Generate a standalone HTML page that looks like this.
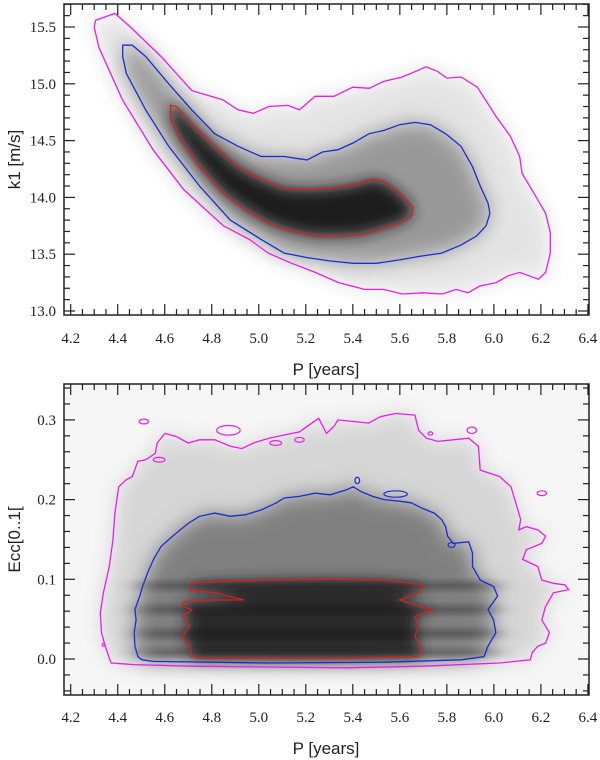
<!DOCTYPE html>
<html><head><meta charset="utf-8">
<style>
html,body{margin:0;padding:0;background:#fff;}
svg{display:block;}
.tick{font-family:"Liberation Serif",serif;font-size:15px;fill:#222;}
.title{font-family:"Liberation Sans",sans-serif;font-size:17px;fill:#222;}
</style></head>
<body>
<svg id="chart" width="600" height="760" viewBox="0 0 600 760" xmlns="http://www.w3.org/2000/svg">
<defs>
<filter id="b1" x="-20%" y="-20%" width="140%" height="140%"><feGaussianBlur stdDeviation="10"/></filter>
<filter id="b2" x="-20%" y="-20%" width="140%" height="140%"><feGaussianBlur stdDeviation="7"/></filter>
<filter id="b3" x="-20%" y="-50%" width="140%" height="200%"><feGaussianBlur stdDeviation="14 3"/></filter>
<clipPath id="c1"><rect x="64" y="4" width="525" height="311"/></clipPath>
<clipPath id="c2"><rect x="64" y="384" width="525" height="311"/></clipPath>
</defs>
<g id="top"></g>
<g id="bot"></g>
</svg>
<script>
// x axis (both panels)
const xTicks=[4.2,4.4,4.6,4.8,5.0,5.2,5.4,5.6,5.8,6.0,6.2,6.4];
const xTickLabels=["4.2","4.4","4.6","4.8","5.0","5.2","5.4","5.6","5.8","6.0","6.2","6.4"];
// top panel
const topYTicks=[13.0,13.5,14.0,14.5,15.0,15.5];
const topYTickLabels=["13.0","13.5","14.0","14.5","15.0","15.5"];
const topMagenta=[[4.306,15.56],[4.388,15.62],[4.454,15.50],[4.584,15.24],[4.715,14.94],[4.781,14.90],[4.846,14.86],[4.912,14.77],[4.977,14.74],[5.042,14.80],[5.124,14.81],[5.173,14.77],[5.239,14.89],[5.32,14.89],[5.40,14.97],[5.47,14.96],[5.53,15.02],[5.61,15.06],[5.68,15.12],[5.71,15.15],[5.76,15.11],[5.80,15.05],[5.86,15.06],[5.93,14.97],[6.01,14.71],[6.07,14.54],[6.11,14.36],[6.12,14.21],[6.17,14.04],[6.22,13.86],[6.24,13.69],[6.24,13.51],[6.22,13.34],[6.19,13.28],[6.15,13.31],[6.11,13.34],[6.06,13.31],[6.01,13.25],[5.94,13.22],[5.89,13.16],[5.84,13.19],[5.78,13.15],[5.70,13.16],[5.61,13.15],[5.53,13.19],[5.45,13.19],[5.34,13.25],[5.24,13.34],[5.14,13.42],[5.04,13.51],[4.96,13.63],[4.85,13.75],[4.68,14.07],[4.55,14.42],[4.42,14.86],[4.32,15.32],[4.30,15.50]];
const topBlue=[[4.421,15.34],[4.462,15.34],[4.519,15.24],[4.617,15.00],[4.715,14.77],[4.813,14.56],[4.912,14.45],[5.01,14.36],[5.108,14.36],[5.173,14.34],[5.206,14.33],[5.271,14.40],[5.337,14.42],[5.402,14.48],[5.468,14.56],[5.533,14.59],[5.599,14.64],[5.664,14.66],[5.73,14.64],[5.795,14.56],[5.86,14.45],[5.909,14.27],[5.942,14.10],[5.975,13.95],[5.983,13.86],[5.967,13.75],[5.926,13.66],[5.86,13.58],[5.778,13.51],[5.68,13.48],[5.599,13.45],[5.50,13.42],[5.402,13.42],[5.304,13.44],[5.206,13.47],[5.108,13.51],[5.01,13.63],[4.879,13.80],[4.748,14.10],[4.617,14.45],[4.519,14.77],[4.437,15.09],[4.421,15.24]];
const topRed=[[4.625,14.81],[4.649,14.80],[4.715,14.65],[4.813,14.45],[4.912,14.27],[5.01,14.16],[5.108,14.08],[5.206,14.07],[5.304,14.08],[5.402,14.11],[5.484,14.16],[5.533,14.14],[5.599,14.04],[5.656,13.91],[5.648,13.83],[5.599,13.77],[5.517,13.72],[5.435,13.67],[5.337,13.66],[5.239,13.66],[5.14,13.70],[5.042,13.77],[4.944,13.89],[4.846,14.04],[4.748,14.27],[4.666,14.51],[4.625,14.69]];
// bottom panel
const botYTicks=[0.0,0.1,0.2,0.3];
const botYTickLabels=["0.0","0.1","0.2","0.3"];
const botMagenta=[[4.364,0.001],[4.347,0.016],[4.331,0.033],[4.326,0.058],[4.339,0.083],[4.364,0.116],[4.38,0.150],[4.388,0.183],[4.404,0.216],[4.437,0.225],[4.462,0.229],[4.486,0.248],[4.519,0.250],[4.56,0.258],[4.568,0.271],[4.601,0.283],[4.65,0.279],[4.699,0.271],[4.748,0.275],[4.813,0.275],[4.879,0.267],[4.928,0.264],[4.977,0.271],[5.042,0.277],[5.108,0.281],[5.173,0.285],[5.206,0.292],[5.255,0.302],[5.288,0.283],[5.32,0.292],[5.337,0.300],[5.402,0.298],[5.468,0.296],[5.517,0.304],[5.582,0.308],[5.664,0.306],[5.68,0.287],[5.713,0.277],[5.762,0.273],[5.828,0.275],[5.893,0.277],[5.934,0.267],[5.942,0.237],[6.024,0.229],[6.073,0.216],[6.089,0.200],[6.114,0.175],[6.106,0.162],[6.138,0.166],[6.187,0.162],[6.22,0.154],[6.204,0.145],[6.138,0.137],[6.122,0.125],[6.187,0.116],[6.204,0.099],[6.253,0.095],[6.302,0.093],[6.318,0.087],[6.253,0.083],[6.22,0.066],[6.204,0.049],[6.236,0.033],[6.22,0.020],[6.187,0.016],[6.163,0.008],[6.155,-0.001],[6.024,-0.005],[5.697,-0.009],[5.37,-0.011],[5.042,-0.010],[4.715,-0.009],[4.47,-0.007],[4.372,-0.005]];
const botMagentaIslands=[[4.511,0.298,0.02,0.003],[4.576,0.250,0.025,0.003],[5.072,0.271,0.025,0.003],[5.173,0.275,0.02,0.003],[5.906,0.287,0.02,0.004],[6.204,0.208,0.02,0.003],[4.871,0.287,0.05,0.006],[5.73,0.283,0.01,0.002],[4.34,0.018,0.006,0.002]];
const botBlueIslands=[[5.582,0.207,0.05,0.004],[5.419,0.224,0.01,0.004],[5.82,0.143,0.015,0.003]];
const botBlue=[[4.486,0.003],[4.473,0.016],[4.47,0.033],[4.478,0.049],[4.473,0.062],[4.494,0.079],[4.506,0.091],[4.527,0.108],[4.552,0.125],[4.584,0.141],[4.633,0.154],[4.666,0.162],[4.699,0.170],[4.748,0.179],[4.813,0.183],[4.879,0.179],[4.944,0.181],[5.01,0.187],[5.075,0.196],[5.108,0.202],[5.173,0.204],[5.239,0.208],[5.304,0.206],[5.37,0.212],[5.402,0.216],[5.435,0.210],[5.484,0.204],[5.533,0.200],[5.599,0.198],[5.648,0.196],[5.697,0.189],[5.746,0.183],[5.778,0.175],[5.795,0.166],[5.803,0.154],[5.828,0.145],[5.893,0.147],[5.909,0.133],[5.909,0.116],[5.942,0.099],[5.999,0.091],[6.016,0.079],[5.975,0.062],[5.999,0.049],[6.008,0.033],[5.975,0.016],[5.958,0.003],[5.86,-0.001],[5.533,-0.004],[5.042,-0.005],[4.552,-0.003],[4.503,-0.001]];
const botRed=[[4.715,0.003],[4.707,0.016],[4.674,0.028],[4.707,0.041],[4.679,0.053],[4.715,0.062],[4.674,0.066],[4.683,0.072],[4.813,0.074],[4.936,0.074],[4.813,0.083],[4.707,0.087],[4.715,0.095],[4.813,0.097],[5.042,0.099],[5.288,0.100],[5.533,0.099],[5.697,0.093],[5.68,0.083],[5.599,0.074],[5.68,0.066],[5.738,0.062],[5.664,0.053],[5.68,0.041],[5.664,0.028],[5.689,0.016],[5.68,0.003],[5.37,0.001],[5.042,0.001],[4.748,0.001]];
const botBands=[0.092,0.062,0.032,0.008];

const NS="http://www.w3.org/2000/svg";
const X0=64,X1=589;
function xs(v){return 70.7+(v-4.2)*235.1;}
function ysTop(v){return 311-(v-13.0)*113.6;}
function ysBot(v){return 659-v*797;}
function mk(tag,attrs,parent){const e=document.createElementNS(NS,tag);for(const k in attrs)e.setAttribute(k,attrs[k]);parent.appendChild(e);return e;}
function pathOf(pts,ys){return pts.map((p,i)=>(i?'L':'M')+xs(p[0]).toFixed(1)+','+ys(p[1]).toFixed(1)).join(' ')+'Z';}

function panel(g,ys,Y0,Y1,clip,yTicks,yLabels,yMinor,yTitle,titleY,labY,layers,contours,islands){
  const dens=mk('g',{'clip-path':'url(#'+clip+')'},g);
  
  
  layers(dens);
  const cg=mk('g',{'clip-path':'url(#'+clip+')'},g);
  contours.forEach(c=>{
    const p=mk('path',{d:pathOf(c.pts,ys),fill:'none',stroke:c.color,'stroke-width':1.3},cg);
    
    
  });
  islands.forEach(is=>{
    is.list.forEach(d=>{
      const e=mk('ellipse',{cx:xs(d[0]),cy:ys(d[1]),rx:Math.abs(xs(d[0]+d[2])-xs(d[0])),ry:Math.abs(ys(d[1]+d[3])-ys(d[1])),fill:'none',stroke:is.color,'stroke-width':1.2},cg);
      
      
    });
  });
  const fr=mk('rect',{x:X0,y:Y0,width:X1-X0,height:Y1-Y0,fill:'none',stroke:'#222','stroke-width':1.5},g);
  
  
  const tg=mk('g',{stroke:'#222','stroke-width':1.2},g);
  for(let v=4.2;v<=6.401;v+=0.05){
    const major=Math.abs(v*5-Math.round(v*5))<1e-6;const L=major?11:6;const x=xs(v);
    if(x<X0||x>X1)continue;
    mk('line',{x1:x,x2:x,y1:Y1,y2:Y1-L},tg);mk('line',{x1:x,x2:x,y1:Y0,y2:Y0+L},tg);
  }
  yMinor.forEach(m=>{const y=ys(m.v);if(y<Y0||y>Y1)return;const L=m.major?11:6;
    mk('line',{x1:X0,x2:X0+L,y1:y,y2:y},tg);mk('line',{x1:X1,x2:X1-L,y1:y,y2:y},tg);});
  xTicks.forEach((v,i)=>{const t=mk('text',{x:xs(v),y:labY,'text-anchor':'middle',class:'tick'},g);t.textContent=xTickLabels[i];
    
    });
  yTicks.forEach((v,i)=>{const t=mk('text',{x:56,y:ys(v)+5,'text-anchor':'end',class:'tick'},g);t.textContent=yLabels[i];
    
    });
  const xt=mk('text',{x:326,y:titleY,'text-anchor':'middle',class:'title'},g);xt.textContent='P [years]';
  
  
  const yc=(Y0+Y1)/2;
  const yt=mk('text',{x:20,y:yc,'text-anchor':'middle',class:'title',transform:'rotate(-90 20 '+yc+')'},g);yt.textContent=yTitle;
  
  
}

const topMinor=[];for(let v=12.9;v<=15.75;v+=0.1){topMinor.push({v:v,major:Math.abs(v*2-Math.round(v*2))<1e-6});}
panel(document.getElementById('top'),ysTop,4,315,'c1',topYTicks,topYTickLabels,topMinor,'k1 [m/s]',375,343,
  function(d){
    mk('path',{d:pathOf(topMagenta,ysTop),fill:'#e4e4e4',filter:'url(#b1)'},d);
    mk('path',{d:pathOf(topBlue,ysTop),fill:'#999',filter:'url(#b1)'},d);
    mk('path',{d:pathOf(topRed,ysTop),fill:'#1a1a1a',filter:'url(#b2)'},d);
  },
  [{pts:topMagenta,color:'#e81ee8',name:'contour-outer'},{pts:topBlue,color:'#1a2ed0',name:'contour-middle'},{pts:topRed,color:'#d42020',name:'contour-inner'}],[]);

const botMinor=[];for(let v=-0.04;v<=0.345;v+=0.02){botMinor.push({v:v,major:Math.abs(v*10-Math.round(v*10))<1e-6});}
panel(document.getElementById('bot'),ysBot,384,695,'c2',botYTicks,botYTickLabels,botMinor,'Ecc[0..1[',754,722,
  function(d){
    mk('rect',{x:64,y:384,width:525,height:311,fill:'#f6f6f6'},d);
    mk('path',{d:pathOf(botMagenta,ysBot),fill:'#d6d6d6',filter:'url(#b1)'},d);
    mk('path',{d:pathOf(botBlue,ysBot),fill:'#808080',filter:'url(#b1)'},d);
    mk('path',{d:pathOf(botRed,ysBot),fill:'#2a2a2a',filter:'url(#b2)'},d);
    botBands.forEach(b=>{
      const r=mk('rect',{x:xs(4.5),y:ysBot(b)-4,width:xs(6.0)-xs(4.5),height:8,fill:'#111',opacity:0.35,filter:'url(#b3)'},d);
      
      
    });
  },
  [{pts:botMagenta,color:'#e81ee8',name:'contour-outer'},{pts:botBlue,color:'#1a2ed0',name:'contour-middle'},{pts:botRed,color:'#d42020',name:'contour-inner'}],
  [{list:botMagentaIslands,color:'#e81ee8',name:'contour-outer-island'},{list:botBlueIslands,color:'#1a2ed0',name:'contour-middle-island'}]);
</script>
</body></html>
